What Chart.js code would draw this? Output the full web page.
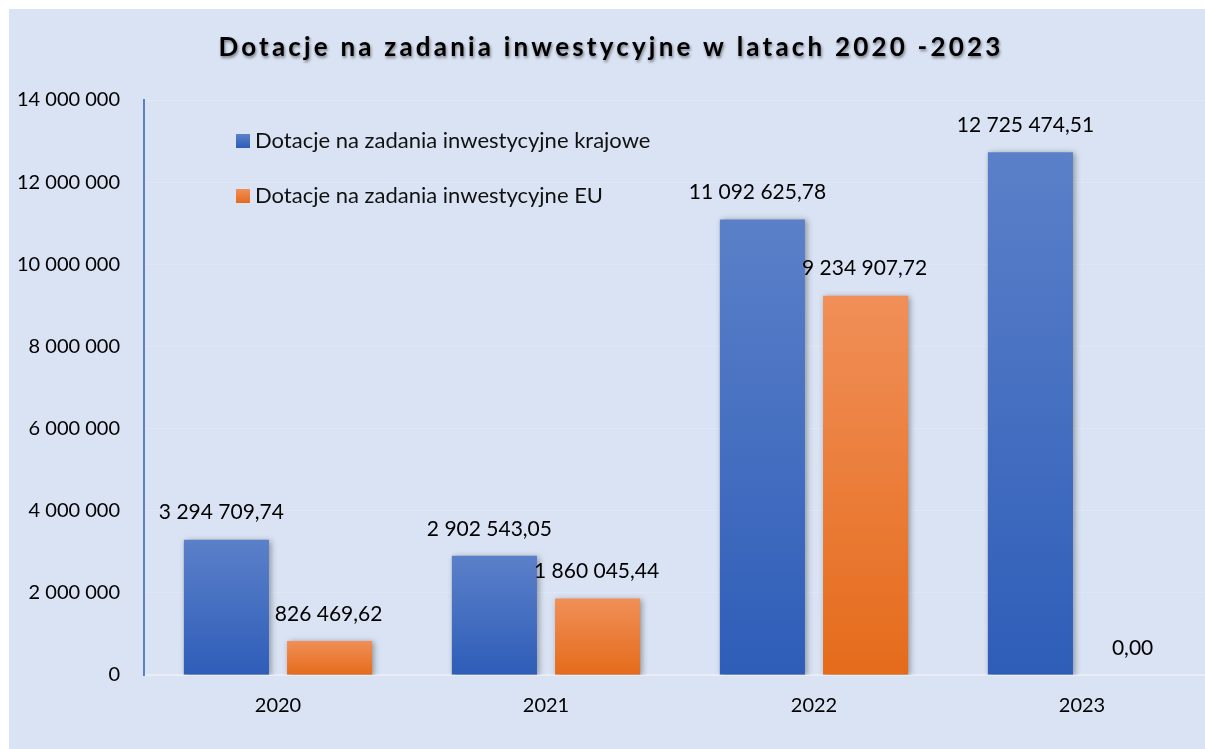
<!DOCTYPE html>
<html lang="pl">
<head>
  <meta charset="UTF-8">
  <title>Dotacje na zadania inwestycyjne</title>
  <script src="https://cdn.jsdelivr.net/npm/chart.js"></script>
  <style>
    html, body {
      margin: 0;
      padding: 0;
      background: #fff;
      overflow: hidden;
    }
    #wrap {
      position: absolute;
      left: 9px;
      top: 9px;
      width: 1208px;
      height: 740px;
      background: #dae3f3;
    }
  </style>
</head>
<body>
  <div id="wrap">
    <canvas id="chart"></canvas>
  </div>

  <script>
    const title = "Dotacje na zadania inwestycyjne w latach 2020 -2023";
    const years = ["2020", "2021", "2022", "2023"];
    const krajowe = [3294709.74, 2902543.05, 11092625.78, 12725474.51];
    const eu = [826469.62, 1860045.44, 9234907.72, 0];
    const seriesNames = [
      "Dotacje na zadania inwestycyjne krajowe",
      "Dotacje na zadania inwestycyjne EU"
    ];
    const yTicks = [0, 2000000, 4000000, 6000000, 8000000, 10000000, 12000000, 14000000];

    const FONT = "Lato, 'Open Sans', sans-serif";

    // 1234567.5 -> "1 234 567,50"
    function fmt(v, dec) {
      let s = v.toFixed(dec);
      let [a, b] = s.split(".");
      a = a.replace(/\B(?=(\d{3})+(?!\d))/g, " ");
      return b ? a + "," + b : a;
    }

    function gradientFill(topCol, botCol, fallback) {
      return (c) => {
        const chart = c.chart;
        if (!chart.chartArea || c.raw === undefined) return fallback;
        const y = chart.scales.y;
        const t = y.getPixelForValue(c.raw);
        const b = y.getPixelForValue(0);
        if (b - t < 1) return fallback;
        const g = chart.ctx.createLinearGradient(0, t, 0, b);
        g.addColorStop(0, topCol);
        g.addColorStop(1, botCol);
        return g;
      };
    }

    const colors = [
      { top: "#5b80c9", bot: "#2e5db8", solid: "#4472c4" },
      { top: "#f08f58", bot: "#e56b1b", solid: "#ed7d31" }
    ];

    // title with letter spacing and shadow
    const titlePlugin = {
      id: "titleDraw",
      afterDraw(chart) {
        const ctx = chart.ctx;
        ctx.save();
        ctx.font = "bold 26px " + FONT;
        ctx.letterSpacing = "3.2px";
        ctx.textAlign = "center";
        ctx.textBaseline = "middle";
        ctx.shadowColor = "rgba(0,0,0,0.45)";
        ctx.shadowBlur = 3;
        ctx.shadowOffsetX = 1;
        ctx.shadowOffsetY = 2;
        ctx.fillStyle = "#000";
        ctx.fillText(title, chart.width / 2 - 2, 39);
        ctx.restore();
      }
    };

    // legend inside plot area
    const legendPlugin = {
      id: "legendDraw",
      afterDraw(chart) {
        const ctx = chart.ctx;
        ctx.save();
        ctx.font = "22px " + FONT;
        ctx.textBaseline = "middle";
        ctx.textAlign = "left";
        chart.data.datasets.forEach((ds, i) => {
          const y = 132 + i * 55;
          const g = ctx.createLinearGradient(0, y - 7, 0, y + 7);
          g.addColorStop(0, colors[i].top);
          g.addColorStop(1, colors[i].bot);
          ctx.fillStyle = g;
          ctx.fillRect(227, y - 7, 14, 14);
          ctx.fillStyle = "#111";
          ctx.fillText(ds.label, 246, y);
        });
        ctx.restore();
      }
    };

    // bar shadows
    const shadowPlugin = {
      id: "barShadow",
      beforeDatasetsDraw(chart) {
        const ctx = chart.ctx;
        ctx.save();
        ctx.shadowColor = "rgba(0,0,0,0.35)";
        ctx.shadowBlur = 6;
        ctx.shadowOffsetX = 2;
        ctx.shadowOffsetY = 1;
      },
      afterDatasetsDraw(chart) {
        chart.ctx.restore();
      }
    };

    // value labels above bars
    const valuePlugin = {
      id: "valueLabels",
      afterDatasetsDraw(chart) {
        const ctx = chart.ctx;
        ctx.save();
        ctx.font = "21px " + FONT;
        ctx.fillStyle = "#000";
        ctx.textAlign = "center";
        ctx.textBaseline = "middle";
        chart.data.datasets.forEach((ds, i) => {
          const meta = chart.getDatasetMeta(i);
          meta.data.forEach((bar, j) => {
            const dx = i === 0 ? -5 : -1;
            ctx.fillText(fmt(ds.data[j], 2), bar.x + dx, bar.y - 27);
          });
        });
        ctx.restore();
      }
    };

    new Chart(document.getElementById("chart"), {
      type: "bar",
      data: {
        labels: years,
        datasets: [
          {
            label: seriesNames[0],
            data: krajowe,
            backgroundColor: gradientFill(colors[0].top, colors[0].bot, colors[0].solid),
            barPercentage: 0.825,
            categoryPercentage: 0.77
          },
          {
            label: seriesNames[1],
            data: eu,
            backgroundColor: gradientFill(colors[1].top, colors[1].bot, colors[1].solid),
            barPercentage: 0.825,
            categoryPercentage: 0.77
          }
        ]
      },
      options: {
        responsive: true,
        maintainAspectRatio: false,
        animation: false,
        layout: {
          padding: { top: 91, right: 1, bottom: 0, left: 0 }
        },
        plugins: {
          legend: { display: false },
          title: { display: false },
          tooltip: { enabled: false }
        },
        scales: {
          x: {
            grid: { display: false, drawTicks: false },
            border: { color: "#e9edf6", width: 2 },
            ticks: {
              color: "#000",
              font: { family: FONT, size: 20 },
              padding: 19
            },
            afterFit(s) { s.height = 74; }
          },
          y: {
            min: 0,
            max: 14000000,
            afterBuildTicks(s) {
              s.ticks = yTicks.map(v => ({ value: v }));
            },
            grid: {
              color: "rgba(255,255,255,0.15)",
              lineWidth: 1,
              drawTicks: false
            },
            border: { color: "#5b7fcb", width: 2 },
            ticks: {
              color: "#000",
              font: { family: FONT, size: 20 },
              padding: 24,
              callback: (v) => fmt(v, 0)
            },
            afterFit(s) { s.width = 135; }
          }
        }
      },
      plugins: [shadowPlugin, valuePlugin, legendPlugin, titlePlugin]
    });
  </script>
</body>
</html>
